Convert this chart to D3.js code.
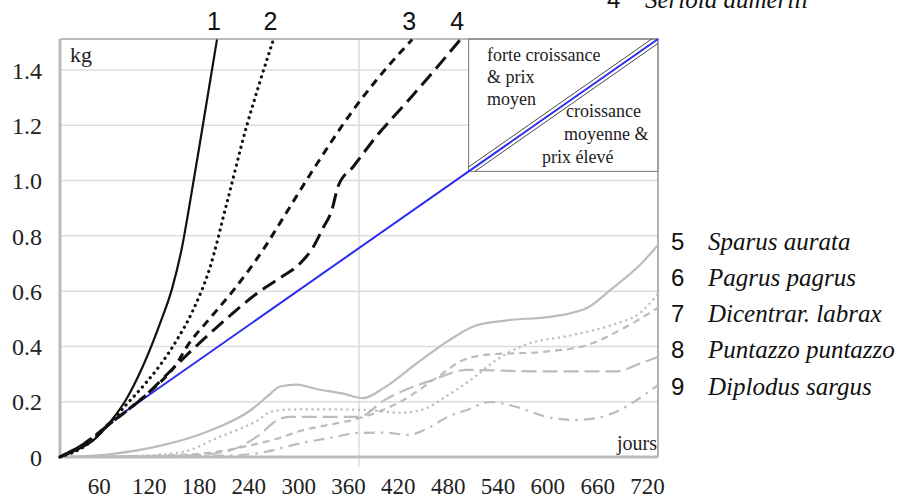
<!DOCTYPE html>
<html><head><meta charset="utf-8">
<script src="https://cdn.jsdelivr.net/npm/d3@7/dist/d3.min.js"></script>
<style>body{margin:0;background:#fff}svg{display:block}</style>
</head><body><svg id="c" width="906" height="501"></svg>
<script>
// ---- data ----
const xTicks = [60,120,180,240,300,360,420,480,540,600,660,720];
const yTicks = [0,0.2,0.4,0.6,0.8,1.0,1.2,1.4];
const curve1 = [[0,0],[20,0.025],[40,0.06],[60,0.125],[80,0.21],[100,0.33],[120,0.48],[135,0.61],[147,0.76],[157,0.93],[172,1.2],[189,1.51]];
const curve2 = [[0,0],[30,0.04],[56,0.11],[80,0.19],[104,0.27],[120,0.33],[140,0.42],[160,0.53],[180,0.68],[201,0.92],[225,1.2],[240,1.35],[257,1.51]];
const curve3 = [[0,0],[30,0.05],[60,0.12],[100,0.215],[117,0.26],[141,0.34],[153,0.40],[180,0.5],[208,0.6],[249,0.77],[265,0.847],[305,1.04],[353,1.255],[394,1.41],[424,1.51]];
const curve4 = [[0,0],[30,0.05],[60,0.12],[100,0.215],[136,0.32],[160,0.39],[189,0.47],[241,0.6],[265,0.648],[289,0.70],[305,0.76],[317,0.83],[327,0.89],[335,0.98],[353,1.05],[381,1.16],[418,1.285],[454,1.41],[482,1.51]];
const blueLine = [[55,0.115],[720,1.512]];
const curve5 = [[0,0],[60,0.01],[120,0.04],[180,0.095],[230,0.17],[250,0.22],[265,0.255],[285,0.262],[310,0.245],[340,0.23],[365,0.213],[390,0.25],[430,0.34],[470,0.425],[500,0.475],[540,0.495],[590,0.507],[635,0.54],[665,0.61],[700,0.70],[720,0.767]];
const curve6 = [[0,0],[100,0.005],[150,0.02],[190,0.07],[215,0.1],[237,0.13],[255,0.165],[280,0.172],[330,0.172],[370,0.17],[410,0.16],[440,0.175],[460,0.21],[495,0.28],[525,0.35],[555,0.40],[615,0.44],[665,0.478],[700,0.525],[720,0.59]];
const curve7 = [[0,0],[120,0.005],[180,0.015],[230,0.043],[260,0.065],[290,0.095],[330,0.12],[360,0.14],[410,0.2],[455,0.29],[485,0.35],[515,0.37],[580,0.38],[635,0.405],[675,0.46],[720,0.54]];
const curve8 = [[0,0],[150,0.005],[200,0.02],[240,0.08],[260,0.13],[275,0.145],[360,0.145],[390,0.205],[450,0.28],[490,0.315],[570,0.31],[670,0.31],[700,0.34],[720,0.362]];
const curve9 = [[0,0],[200,0.005],[250,0.02],[280,0.043],[330,0.072],[360,0.087],[390,0.088],[420,0.08],[440,0.1],[470,0.15],[490,0.17],[518,0.199],[550,0.181],[586,0.145],[618,0.134],[647,0.141],[674,0.17],[706,0.23],[720,0.26]];
const topLabels = ["1","2","3","4"];
const legendNums = ["5","6","7","8","9"];
const legendNames = ["Sparus aurata","Pagrus pagrus","Dicentrar. labrax","Puntazzo puntazzo","Diplodus sargus"];
const topLegend = ["4","Seriola dumerili"];
const boxTopLeft = ["forte croissance","& prix","moyen"];
const boxBottomRight = ["croissance","moyenne &","prix élevé"];
const boxStartDay = 492;

// ---- layout ----
const svg = d3.select("#c");
const L=60,R=658,T=39,B=457;
const x = d3.scaleLinear([0,720],[L,R]);
const y = d3.scaleLinear([0,1.512],[B,T]);
const SERIF = '"Liberation Serif"';
const SANS = '"Liberation Sans"';

// gridlines
svg.append("g").selectAll("line").data(yTicks.filter(d=>d>0)).join("line")
  .attr("x1",L).attr("x2",R).attr("y1",d=>y(d)).attr("y2",d=>y(d))
  .attr("stroke","#dcdcdc").attr("stroke-width",1.5);
svg.append("line").attr("x1",x(360)).attr("x2",x(360)).attr("y1",T).attr("y2",B+10)
  .attr("stroke","#dcdcdc").attr("stroke-width",1.5);

// box
const bx0 = x(boxStartDay), by1 = y(blueLine[1][1]*boxStartDay/720);
svg.append("rect").attr("x",bx0).attr("y",T).attr("width",R-bx0).attr("height",by1-T)
  .attr("fill","#fff").attr("stroke","#777").attr("stroke-width",1);

// frame
svg.append("line").attr("x1",L).attr("x2",R).attr("y1",T).attr("y2",T).attr("stroke","#777").attr("stroke-width",1.2);
svg.append("line").attr("x1",R).attr("x2",R).attr("y1",T).attr("y2",B).attr("stroke","#999").attr("stroke-width",1.5);
svg.append("line").attr("x1",L).attr("x2",L).attr("y1",T).attr("y2",B+1).attr("stroke","#bbb").attr("stroke-width",3);
svg.append("line").attr("x1",L-2).attr("x2",R).attr("y1",B).attr("y2",B).attr("stroke","#bbb").attr("stroke-width",3);

// axes labels
const ya = svg.append("g").attr("transform",`translate(${L-18},0)`)
  .call(d3.axisLeft(y).tickValues(yTicks).tickSize(0).tickFormat(d=>d===0?"0":d3.format(".1f")(d)));
ya.select(".domain").remove();
ya.selectAll("text").style("font-family",SERIF).style("font-size","24px").attr("fill","#222").attr("x",0).attr("dy","0.34em");
const xa = svg.append("g").attr("transform",`translate(-11,${B+20})`)
  .call(d3.axisBottom(x).tickValues(xTicks).tickSize(0));
xa.select(".domain").remove();
xa.selectAll("text").style("font-family",SERIF).style("font-size","23px").attr("fill","#222").attr("y",0).attr("dy","0.72em");

// box texts
svg.append("g").selectAll("text").data(boxTopLeft).join("text")
  .attr("x",487).attr("y",(d,i)=>61+i*22).text(d=>d)
  .style("font-family",SERIF).style("font-size","18px").attr("fill","#222");
svg.append("g").selectAll("text").data(boxBottomRight).join("text")
  .attr("x",(d,i)=>[566,564,542][i]).attr("y",(d,i)=>117+i*23).text(d=>d)
  .style("font-family",SERIF).style("font-size","18px").attr("fill","#222");

// double line in box
const P0=[bx0,by1], P1=[x(720),y(1.512)];
const dx=P1[0]-P0[0], dy=P1[1]-P0[1], len=Math.hypot(dx,dy);
const nx=-dy/len*3.6, ny=dx/len*3.6;
svg.append("clipPath").attr("id","bc").append("rect").attr("x",bx0).attr("y",T).attr("width",R-bx0).attr("height",by1-T);
const dl = svg.append("g").attr("clip-path","url(#bc)");
[1,-1].forEach(s=>{
  dl.append("line").attr("x1",P0[0]+s*nx-dx*0.05).attr("y1",P0[1]+s*ny-dy*0.05).attr("x2",P1[0]+s*nx+dx*0.05).attr("y2",P1[1]+s*ny+dy*0.05)
    .attr("stroke","#333").attr("stroke-width",0.9);
});

const line = d3.line().x(d=>x(d[0])).y(d=>y(d[1])).curve(d3.curveMonotoneX);

// gray series
const grays = [
  {d:curve5, dash:null},
  {d:curve6, dash:"2.2 3.6"},
  {d:curve7, dash:"7 5"},
  {d:curve8, dash:"15 6"},
  {d:curve9, dash:"11 6 2.5 6"}
];
svg.append("g").selectAll("path").data(grays).join("path")
  .attr("d",g=>line(g.d)).attr("fill","none").attr("stroke","#bcbcbc").attr("stroke-width",2.2)
  .attr("stroke-dasharray",g=>g.dash);

// blue
svg.append("path").attr("d",d3.line().x(d=>x(d[0])).y(d=>y(d[1]))(blueLine))
  .attr("fill","none").attr("stroke","#2b2bf2").attr("stroke-width",2);

// black series
const blacks = [
  {d:curve1, dash:null, w:2.2, cap:"butt"},
  {d:curve2, dash:"0.1 6", w:3.2, cap:"round"},
  {d:curve3, dash:"8 6", w:3, cap:"butt"},
  {d:curve4, dash:"15 7", w:3, cap:"butt"}
];
svg.append("g").selectAll("path").data(blacks).join("path")
  .attr("d",g=>line(g.d)).attr("fill","none").attr("stroke","#111").attr("stroke-width",g=>g.w)
  .attr("stroke-dasharray",g=>g.dash).attr("stroke-linecap",g=>g.cap);

// top labels
svg.append("g").selectAll("text").data(blacks).join("text")
  .attr("x",g=>x(g.d[g.d.length-1][0])-3).attr("y",30).attr("text-anchor","middle")
  .text((g,i)=>topLabels[i]).style("font-family",SANS).style("font-size","25px").attr("fill","#111");

// kg / jours
svg.append("text").attr("x",70).attr("y",62).text("kg").style("font-family",SERIF).style("font-size","22px").attr("fill","#222");
svg.append("text").attr("x",657).attr("y",450).attr("text-anchor","end").text("jours").style("font-family",SERIF).style("font-size","20px").attr("fill","#222");

// legend right
const lg = svg.append("g");
legendNums.forEach((n,i)=>{
  const by=[250,286,322,358,395][i];
  lg.append("text").attr("x",671).attr("y",by).text(n).style("font-family",SANS).style("font-size","24px").attr("fill","#111");
  lg.append("text").attr("x",708).attr("y",by).text(legendNames[i]).style("font-family",SERIF).style("font-style","italic").style("font-size","25px").attr("fill","#111");
});
// top legend entry, cut off at the top edge as in the reference
svg.append("text").attr("x",607).attr("y",8).text(topLegend[0]).style("font-family",SANS).style("font-size","24px").attr("fill","#111");
svg.append("text").attr("x",645).attr("y",8).text(topLegend[1]).style("font-family",SERIF).style("font-style","italic").style("font-size","25px").attr("fill","#111");
</script></body></html>
